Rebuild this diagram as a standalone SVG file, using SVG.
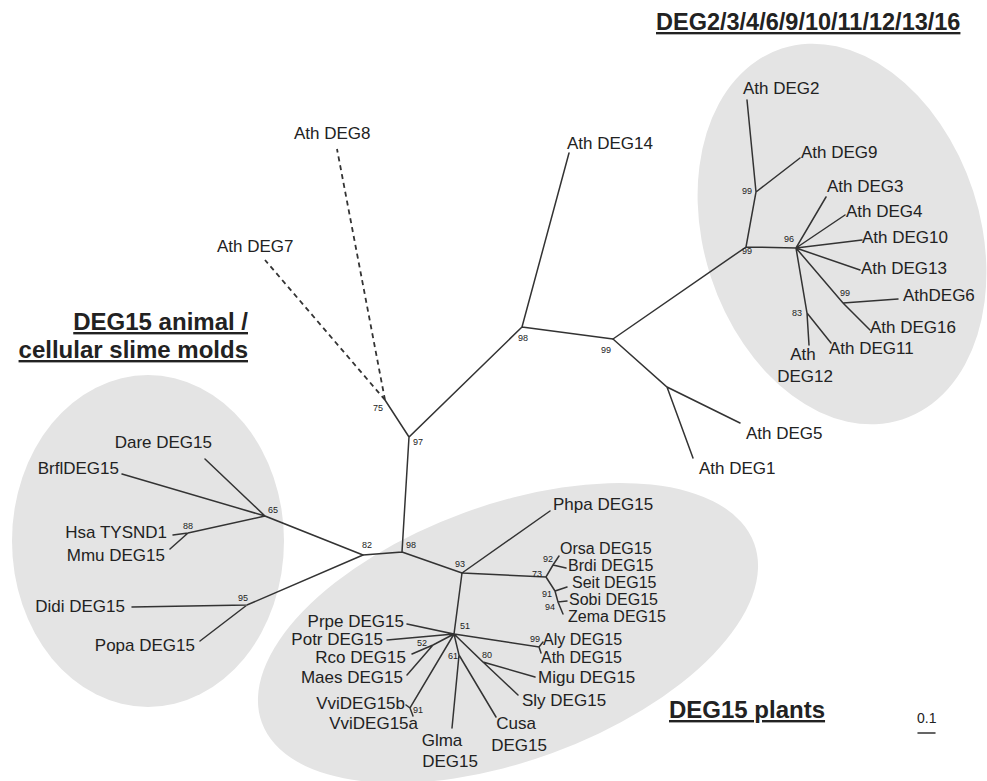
<svg xmlns="http://www.w3.org/2000/svg" width="987" height="781" viewBox="0 0 987 781">
<style>
.bg{fill:#e4e4e4;stroke:none}
.e{stroke:#333;stroke-width:1.5;fill:none;stroke-linecap:round}
.d{stroke:#333;stroke-width:1.8;fill:none;stroke-dasharray:5,4}
text{font-family:"Liberation Sans",Arial,sans-serif;fill:#222}
.l{font-size:17px}
.s{font-size:16px}
.b{font-size:9px}
.t{font-size:24px;font-weight:bold;text-decoration:underline}
.m{text-anchor:middle}
.r{text-anchor:end}
</style>
<rect width="987" height="781" fill="#fff"/>
<g id="clusters">
<ellipse id="cl-deg2" class="bg" cx="842" cy="234" rx="138" ry="195" transform="rotate(-18 842 234)"/>
<ellipse id="cl-animal" class="bg" cx="148" cy="541" rx="136" ry="166"/>
<ellipse id="cl-plants" class="bg" cx="508" cy="633" rx="262" ry="128" transform="rotate(-20 508 633)"/>
</g>
<g id="connectors">
<path class="e" d="M613,339L746,247L756,192L747,100M756,192L800,158M746,247L796,248L826,197M796,248L845,215M796,248L862,240M796,248L860,270M796,248L807,313L809,345M807,313L831,343M796,248L843,303L870,330M843,303L898,299"/>
<path class="e" d="M522,327L613,339M522,327L569,153M613,339L667,387L740,423M667,387L693,458M522,327L409,437L385,400M409,437L402,552L363,555M402,552L462,573"/>
<path class="d" d="M385,400L337,149M385,400L265,260"/>
<path class="e" d="M363,555L265,516L205,459M265,516L122,474M265,516L188,533L173,535M188,533L170,549M363,555L247,605L132,607M247,605L200,641"/>
<path class="e" d="M462,573L550,511M462,573L546,577L553,565L559,556M553,565L566,568M546,577L555,591L567,587M555,591L558,602L567,601M558,602L563,614"/>
<path class="e" d="M462,573L454,634L407,624M454,634L387,640M454,634L433,645L412,654M433,645L407,675M454,634L410,708L406,705M410,708L413,716M454,634L459,655L452,728M459,655L496,717M454,634L483,662L535,677M483,662L518,695M454,634L539,647L543,642M539,647L541,653"/>
<path class="e" d="M918,733L935,733"/>
</g>
<g id="titles">
<text class="t" x="656" y="30" style="font-size:23.5px">DEG2/3/4/6/9/10/11/12/13/16</text>
<text class="t r" x="248" y="330">DEG15 animal /</text>
<text class="t r" x="248" y="358">cellular slime molds</text>
<text class="t" x="669" y="718">DEG15 plants</text>
<text x="917" y="723" style="font-size:14px">0.1</text>
</g>
<g id="leaves">
<text id="n-deg2" class="l" x="743" y="94">Ath DEG2</text>
<text id="n-deg9" class="l" x="801" y="158">Ath DEG9</text>
<text id="n-deg3" class="l" x="827" y="192">Ath DEG3</text>
<text id="n-deg4" class="l" x="846" y="217">Ath DEG4</text>
<text id="n-deg10" class="l" x="862" y="243">Ath DEG10</text>
<text id="n-deg13" class="l" x="861" y="274">Ath DEG13</text>
<text id="n-deg6" class="l" x="903" y="301">AthDEG6</text>
<text id="n-deg16" class="l" x="870" y="333">Ath DEG16</text>
<text id="n-deg11" class="l" x="829" y="354">Ath DEG11</text>
<text id="n-deg12" class="l m"><tspan x="803" y="360">Ath</tspan><tspan x="805" y="382">DEG12</tspan></text>
<text id="n-deg14" class="l" x="567" y="149">Ath DEG14</text>
<text id="n-deg8" class="l" x="294" y="139">Ath DEG8</text>
<text id="n-deg7" class="l" x="217" y="252">Ath DEG7</text>
<text id="n-deg5" class="l" x="746" y="439">Ath DEG5</text>
<text id="n-deg1" class="l" x="699" y="474">Ath DEG1</text>
<text id="n-dare" class="l r" x="212" y="448">Dare DEG15</text>
<text id="n-brfl" class="l r" x="119" y="474">BrflDEG15</text>
<text id="n-hsa" class="l r" x="167" y="538">Hsa TYSND1</text>
<text id="n-mmu" class="l r" x="165" y="561">Mmu  DEG15</text>
<text id="n-didi" class="l r" x="125" y="612">Didi DEG15</text>
<text id="n-popa" class="l r" x="195" y="651">Popa DEG15</text>
<text id="n-phpa" class="l" x="553" y="510">Phpa DEG15</text>
<text id="n-orsa" class="s" x="560" y="554">Orsa DEG15</text>
<text id="n-brdi" class="s" x="568" y="571">Brdi DEG15</text>
<text id="n-seit" class="s" x="572" y="588">Seit DEG15</text>
<text id="n-sobi" class="s" x="569" y="605">Sobi DEG15</text>
<text id="n-zema" class="s" x="568" y="622">Zema DEG15</text>
<text id="n-aly" class="s" x="543" y="645">Aly DEG15</text>
<text id="n-ath15" class="s" x="541" y="663">Ath DEG15</text>
<text id="n-migu" class="l" x="538" y="683">Migu DEG15</text>
<text id="n-sly" class="l" x="522" y="706">Sly DEG15</text>
<text id="n-cusa" class="l m"><tspan x="516" y="729">Cusa</tspan><tspan x="519" y="751">DEG15</tspan></text>
<text id="n-glma" class="l m"><tspan x="442" y="746">Glma</tspan><tspan x="450" y="767">DEG15</tspan></text>
<text id="n-prpe" class="l r" x="404" y="627">Prpe DEG15</text>
<text id="n-potr" class="l r" x="383" y="645">Potr DEG15</text>
<text id="n-rco" class="l r" x="406" y="663">Rco DEG15</text>
<text id="n-maes" class="l r" x="403" y="683">Maes DEG15</text>
<text id="n-vvib" class="l r" x="405" y="709">VviDEG15b</text>
<text id="n-vvia" class="l r" x="418" y="729">VviDEG15a</text>
</g>
<g id="bootstrap">
<text class="b" x="742" y="194">99</text>
<text class="b" x="742" y="254">99</text>
<text class="b" x="784" y="242">96</text>
<text class="b" x="840" y="296">99</text>
<text class="b" x="792" y="316">83</text>
<text class="b" x="518" y="341">98</text>
<text class="b" x="601" y="353">99</text>
<text class="b" x="373" y="411">75</text>
<text class="b" x="413" y="445">97</text>
<text class="b" x="406" y="548">98</text>
<text class="b" x="362" y="548">82</text>
<text class="b" x="455" y="567">93</text>
<text class="b" x="268" y="513">65</text>
<text class="b" x="183" y="529">88</text>
<text class="b" x="238" y="601">95</text>
<text class="b" x="543" y="562">92</text>
<text class="b" x="532" y="577">73</text>
<text class="b" x="542" y="597">91</text>
<text class="b" x="545" y="610">94</text>
<text class="b" x="460" y="629">51</text>
<text class="b" x="417" y="646">52</text>
<text class="b" x="448" y="659">61</text>
<text class="b" x="482" y="658">80</text>
<text class="b" x="530" y="642">99</text>
<text class="b" x="413" y="713">91</text>
</g>
</svg>
